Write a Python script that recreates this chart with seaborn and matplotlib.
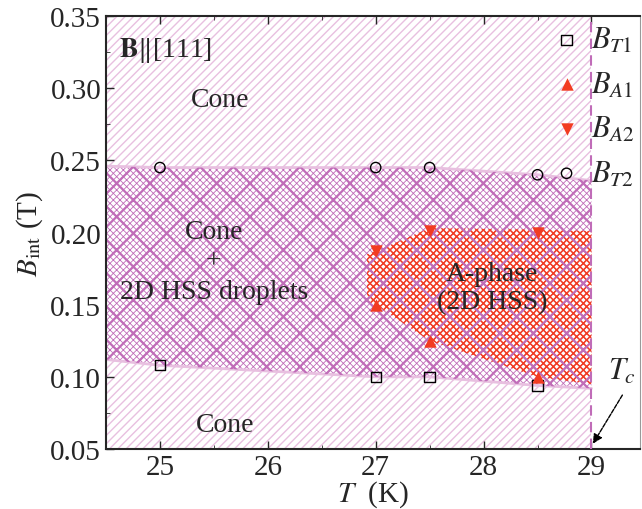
import numpy as np
import pandas as pd
import matplotlib
matplotlib.use("Agg")
import matplotlib.pyplot as plt
import seaborn as sns

# ---- data ----
T_T1 = [25.0, 27.0, 27.5, 28.5]
B_T1 = [0.108, 0.100, 0.100, 0.094]
T_T2 = [25.0, 27.0, 27.5, 28.5]
B_T2 = [0.245, 0.245, 0.245, 0.240]
T_A1 = [27.0, 27.5, 28.5]
B_A1 = [0.150, 0.125, 0.100]
T_A2 = [27.0, 27.5, 28.5]
B_A2 = [0.187, 0.201, 0.200]

# region boundaries (extended to the plot edge and Tc)
T_mix = [24.5, 25.0, 27.0, 27.5, 28.5, 29.0]
B_mix_top = [0.246, 0.245, 0.245, 0.245, 0.240, 0.236]
B_mix_bot = [0.112, 0.108, 0.100, 0.100, 0.094, 0.092]
T_A = [26.92, 27.0, 27.5, 28.5, 29.0]
B_A_top = [0.185, 0.187, 0.203, 0.202, 0.201]
B_A_bot = [0.152, 0.150, 0.125, 0.100, 0.095]
Tc = 29.0

sns.set_style("ticks")
plt.rcParams['font.family'] = ['Liberation Serif', 'DejaVu Serif']
plt.rcParams['mathtext.fontset'] = 'stix'
plt.rcParams['xtick.direction'] = 'in'
plt.rcParams['ytick.direction'] = 'in'

purple = '#c06cb8'
pink = '#e8c0e0'
red = '#f23c22'

fig = plt.figure(figsize=(6.42, 5.10), dpi=100)
ax = fig.add_axes([106/642, 60/510, 534/642, 433/510])

def hfill(x, y1, y2, hatch, ec, lw, z):
    with plt.rc_context({'hatch.linewidth': lw}):
        c = ax.fill_between(x, y1, y2, facecolor='none', edgecolor=ec,
                            hatch=hatch, linewidth=0, zorder=z)
    if hasattr(c, 'set_hatch_linewidth'):
        c.set_hatch_linewidth(lw)
    return c

# background cone region hatching
hfill([24.5, Tc], [0.05, 0.05], [0.35, 0.35], '////', pink, 1.0, 0)
# mixed region: white base then cross-hatch
ax.fill_between(T_mix, B_mix_bot, B_mix_top, color='white', linewidth=0, zorder=1)
hfill(T_mix, B_mix_bot, B_mix_top, 'xxxxx', purple, 0.6, 1.5)
# A-phase region (red cross-hatch over the purple one)
hfill(T_A, B_A_bot, B_A_top, 'xxxxx', red, 1.1, 2.1)
# sparse heavy cross lines on top
hfill(T_mix, B_mix_bot, B_mix_top, 'x', purple, 1.6, 2.3)
ax.plot(T_mix, B_mix_top, color=pink, lw=2, zorder=1.7)
ax.plot(T_mix, B_mix_bot, color=pink, lw=2, zorder=1.7)

ax.axvline(Tc, color=purple, ls=(0, (5, 3)), lw=1.5, zorder=3)

# markers
sns.scatterplot(x=T_T1, y=B_T1, marker='s', s=55, facecolor='none',
                edgecolor='black', linewidth=1.0, label='$B_{T1}$', ax=ax, zorder=5)
sns.scatterplot(x=T_A1, y=B_A1, marker='^', s=80, color=red,
                edgecolor=red, linewidth=0, label='$B_{A1}$', ax=ax, zorder=5)
sns.scatterplot(x=T_A2, y=B_A2, marker='v', s=80, color=red,
                edgecolor=red, linewidth=0, label='$B_{A2}$', ax=ax, zorder=5)
sns.scatterplot(x=T_T2, y=B_T2, marker='o', s=55, facecolor='none',
                edgecolor='black', linewidth=1.0, label='$B_{T2}$', ax=ax, zorder=5)

leg = ax.legend(loc='upper right', bbox_to_anchor=(1.025, 1.02), frameon=False,
                fontsize=22, labelspacing=0.5, handletextpad=0.3,
                handlelength=1.0, borderaxespad=0.2)
leg.set_zorder(6)

fs = 20
ax.text(24.62, 0.327, r'$\mathbf{B}$$\|$[111]', fontsize=fs, va='center', ha='left', zorder=6)
ax.text(25.56, 0.292, 'Cone', fontsize=fs, ha='center', va='center', zorder=6)
ax.text(25.5, 0.180, 'Cone\n+\n2D HSS droplets', fontsize=fs, ha='center',
        va='center', linespacing=1.25, zorder=6)
ax.text(28.08, 0.162, 'A-phase\n(2D HSS)', fontsize=fs, ha='center',
        va='center', linespacing=1.15, zorder=6)
ax.text(25.6, 0.067, 'Cone', fontsize=fs, ha='center', va='center', zorder=6)
ax.annotate('', xy=(Tc, 0.052), xytext=(29.3, 0.089),
            arrowprops=dict(arrowstyle='-|>', color='black', lw=1.0,
                            linestyle=(0, (3, 1)), mutation_scale=14), zorder=6)
ax.text(29.28, 0.104, '$T_c$', fontsize=22, ha='center', va='center', zorder=6)

ax.set_xlim(24.5, 29.45)
ax.set_ylim(0.05, 0.35)
ax.set_xticks([25, 26, 27, 28, 29])
ax.set_xticks(np.arange(24.5, 29.5, 0.5), minor=True)
ax.set_yticks(np.arange(0.05, 0.351, 0.05))
ax.set_yticks(np.arange(0.05, 0.351, 0.025), minor=True)
ax.set_yticklabels([f'{v:.2f}' for v in np.arange(0.05, 0.351, 0.05)])
ax.tick_params(labelsize=21, length=6, width=1.0, top=True, right=False)
ax.tick_params(which='minor', length=3, top=True)
ax.set_xlabel('$T$  (K)', fontsize=21, labelpad=-1)
ax.set_ylabel(r'$B_{\mathrm{int}}$ (T)', fontsize=21, labelpad=4)
for side in ['top', 'left', 'bottom']:
    ax.spines[side].set_linewidth(1.5)
ax.spines['right'].set_color('#999999')
ax.spines['right'].set_linewidth(0.8)

fig.savefig('out.png', dpi=100)
